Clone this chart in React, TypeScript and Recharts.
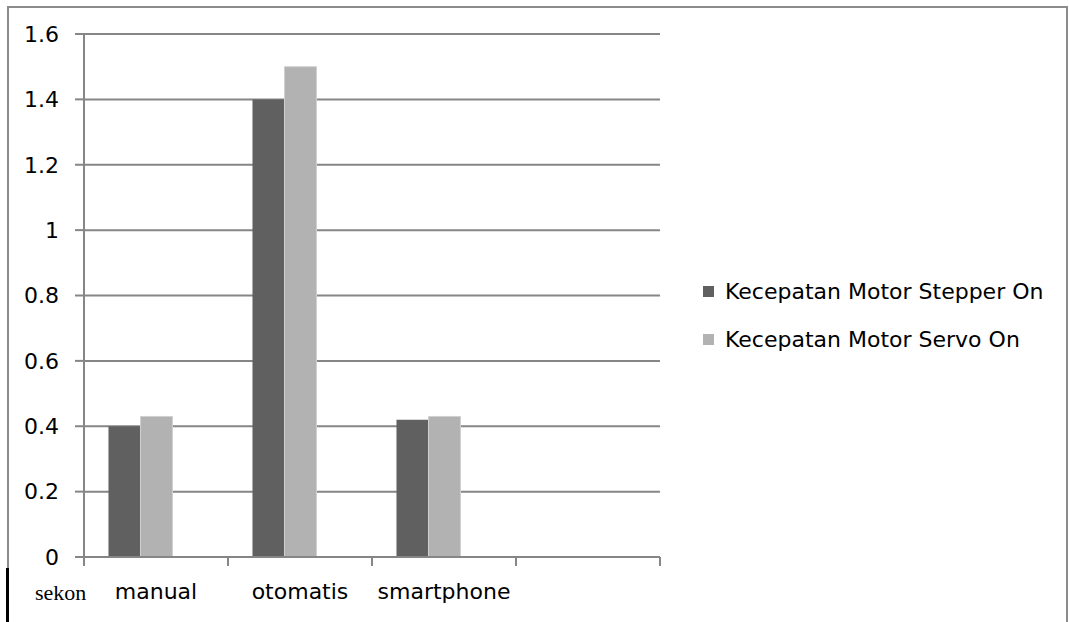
import React from 'react';
import { BarChart, Bar, XAxis, YAxis, CartesianGrid, Legend } from 'recharts';

const categories = ['manual', 'otomatis', 'smartphone', ''];
const stepperValues = [0.4, 1.4, 0.42, null];
const servoValues = [0.43, 1.5, 0.43, null];
const yTicks = [0, 0.2, 0.4, 0.6, 0.8, 1, 1.2, 1.4, 1.6];
const seriesNames = ['Kecepatan Motor Stepper On', 'Kecepatan Motor Servo On'];
const unitLabel = 'sekon';

const data = categories.map((name, i) => ({
    name,
    stepper: stepperValues[i],
    servo: servoValues[i],
    blank: null,
}));

const FONT = '"DejaVu Sans", Verdana, sans-serif';
const GRID = '#868686';
const FS = 22;

// category label plus Excel-style tick marks on the category boundaries
const CategoryTick = (props: any) => {
    const { x, y, payload, index, visibleTicksCount } = props;
    const half = payload && payload.offset ? payload.offset : 0;
    const isLast = index === visibleTicksCount - 1;
    return (
        <g>
            <line x1={x - half} y1={y} x2={x - half} y2={y + 9} stroke={GRID} strokeWidth={2} />
            {isLast && <line x1={x + half} y1={y} x2={x + half} y2={y + 9} stroke={GRID} strokeWidth={2} />}
            <text x={x} y={y + 42} textAnchor="middle" fill="#000" fontSize={FS} fontFamily={FONT}>
                {payload.value}
            </text>
        </g>
    );
};

const LegendContent = (props: any) => {
    const items = (props.payload || [])
        .filter((p: any) => p.type !== 'none')
        .sort((a: any, b: any) => seriesNames.indexOf(a.value) - seriesNames.indexOf(b.value));
    return (
        <div style={{ fontFamily: FONT, fontSize: FS, color: '#000' }}>
            {items.map((p: any) => (
                <div key={p.value} style={{ display: 'flex', alignItems: 'center', height: 48, whiteSpace: 'nowrap' }}>
                    <span style={{ width: 11, height: 11, background: p.color, display: 'inline-block', marginRight: 11 }} />
                    <span>{p.value}</span>
                </div>
            ))}
        </div>
    );
};

const App: React.FC = () => {
    return (
        <div style={{ position: 'absolute', left: 0, top: 0, width: 1069, height: 622, background: '#fff', overflow: 'hidden' }}>
            <div style={{ position: 'absolute', left: 7, top: 6, width: 1057, height: 700, border: '2px solid #8c8c8c' }} />
            <div style={{ position: 'absolute', left: 6, top: 568, width: 3, height: 60, background: '#000' }} />
            <div style={{ position: 'absolute', left: 35, top: 580, fontFamily: '"Liberation Serif", "Times New Roman", serif', fontSize: 22, color: '#000' }}>
                {unitLabel}
            </div>
            <BarChart
                width={1069}
                height={622}
                data={data}
                margin={{ top: 34, right: 409, left: 24, bottom: 15 }}
                barGap={0}
                barCategoryGap="17%"
                style={{ position: 'absolute', left: 0, top: 0 }}
            >
                <CartesianGrid vertical={false} stroke={GRID} strokeWidth={2} />
                <XAxis
                    dataKey="name"
                    height={50}
                    interval={0}
                    stroke={GRID}
                    strokeWidth={2}
                    tickLine={false}
                    tickSize={0}
                    tickMargin={0}
                    tick={<CategoryTick />}
                />
                <YAxis
                    width={60}
                    domain={[0, 1.6]}
                    ticks={yTicks}
                    stroke={GRID}
                    strokeWidth={2}
                    tickSize={9}
                    tickMargin={16}
                    tick={{ fill: '#000', fontSize: FS, fontFamily: FONT }}
                />
                <Legend
                    layout="vertical"
                    align="center"
                    verticalAlign="middle"
                    content={<LegendContent />}
                    wrapperStyle={{ left: 703, top: 267, right: 'auto', width: 360 }}
                />
                <Bar dataKey="stepper" name={seriesNames[0]} fill="#606060" isAnimationActive={false} />
                <Bar dataKey="servo" name={seriesNames[1]} fill="#b2b2b2" stroke="#d0d0d0" strokeWidth={1} isAnimationActive={false} />
                <Bar dataKey="blank" legendType="none" fill="none" isAnimationActive={false} />
            </BarChart>
        </div>
    );
};

export default App;
